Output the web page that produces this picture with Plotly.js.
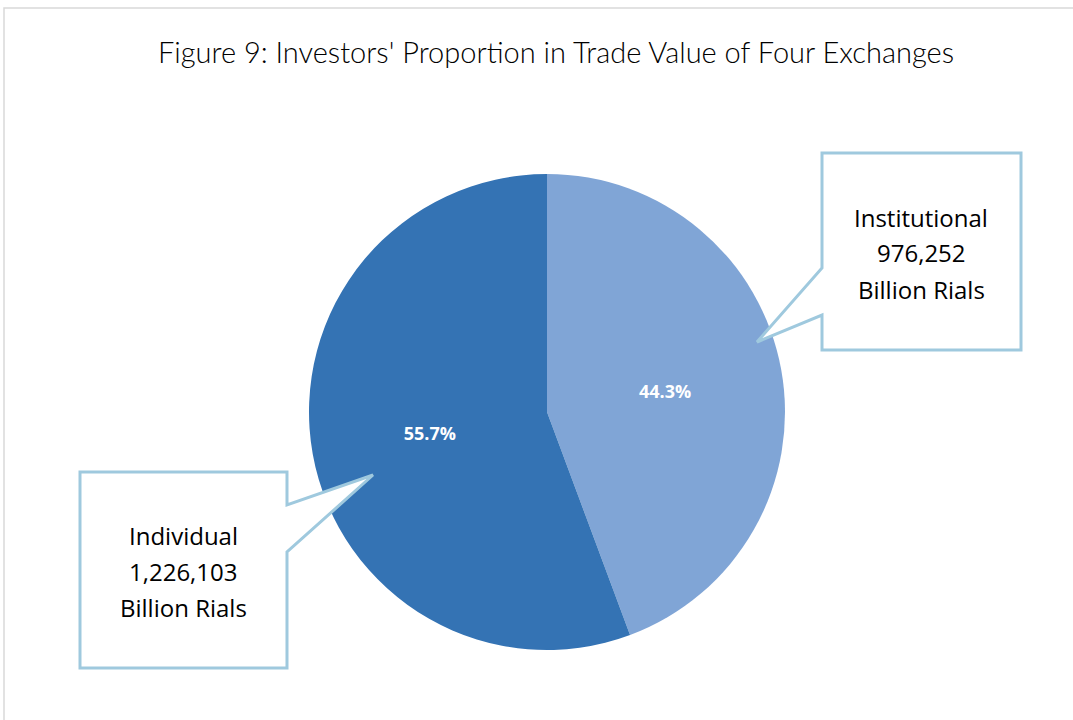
<!DOCTYPE html>
<html>
<head>
<meta charset="utf-8">
<script src="https://cdn.plot.ly/plotly-3.0.1.min.js"></script>
<style>html,body{margin:0;padding:0;background:#fff;}#chart{width:1073px;height:720px;}</style>
</head>
<body>
<div id="chart"></div>
<script>
const categories = ['Institutional', 'Individual'];
const values = [976252, 1226103];
const valueLabels = ['976,252', '1,226,103'];
const unitLabel = 'Billion Rials';
const sliceColors = ['#80a5d6', '#3473b4'];
const titleText = "Figure 9: Investors' Proportion in Trade Value of Four Exchanges";

const W = 1073, H = 720;
const P = (x, y) => [(x / W).toFixed(5), (1 - y / H).toFixed(5)];
function pathOf(pts) {
  return 'M ' + pts.map(p => P(p[0], p[1]).join(',')).join(' L ') + ' Z';
}
const calloutColor = '#9fc9de';
const rightPath = pathOf([[822,153],[1021,153],[1021,350],[822,350],[822,315],[757,342],[822,268]]);
const leftPath = pathOf([[80,472],[287,472],[287,505],[373,475],[287,552],[287,668],[80,668]]);

const shapes = [
  {type:'rect', xref:'paper', yref:'paper', x0:4/W, x1:1.02, y0:-0.02, y1:1-8/H, line:{color:'#d9d9d9', width:1.5}, fillcolor:'rgba(0,0,0,0)', layer:'below'},
  {type:'path', xref:'paper', yref:'paper', path:rightPath, fillcolor:'#ffffff', line:{color:calloutColor, width:3}, layer:'above'},
  {type:'path', xref:'paper', yref:'paper', path:leftPath, fillcolor:'#ffffff', line:{color:calloutColor, width:3}, layer:'above'}
];

const calloutFont = {family:'"Open Sans", Lato, sans-serif', size:24, color:'#000000'};
const annotations = [];
function calloutLines(lines, cx, cy) {
  lines.forEach((t, i) => {
    annotations.push({xref:'paper', yref:'paper', x:cx/W, y:1-(cy + (i-1)*36)/H,
      xanchor:'center', yanchor:'middle', showarrow:false, text:t, font:calloutFont});
  });
}
calloutLines([categories[0], valueLabels[0], unitLabel], 921, 253);
calloutLines([categories[1], valueLabels[1], unitLabel], 183, 571);

const trace = {
  type:'pie',
  labels: categories,
  values: values,
  sort:false,
  direction:'clockwise',
  rotation:0,
  marker:{colors:sliceColors, line:{color:'rgba(0,0,0,0)', width:0}},
  texttemplate:'%{percent:.1%}',
  textposition:'inside',
  insidetextorientation:'horizontal',
  textfont:{family:'"Open Sans", Lato, sans-serif', size:18, color:'#ffffff', weight:'bold'},
  hoverinfo:'label+value+percent',
  domain:{x:[309/W, 785/W], y:[1-650/H, 1-174/H]},
  showlegend:false
};

const layout = {
  width:W, height:H,
  margin:{l:0, r:0, t:0, b:0},
  paper_bgcolor:'#ffffff',
  plot_bgcolor:'#ffffff',
  title:{text:titleText, x:556/W, xanchor:'center', y:1-53/H, yanchor:'middle', yref:'container',
         font:{family:'Lato, "Open Sans", sans-serif', size:29, color:'#000000', weight:300}},
  shapes: shapes,
  annotations: annotations,
  showlegend:false
};

Plotly.newPlot('chart', [trace], layout, {displayModeBar:false, staticPlot:true});
</script>
</body>
</html>
